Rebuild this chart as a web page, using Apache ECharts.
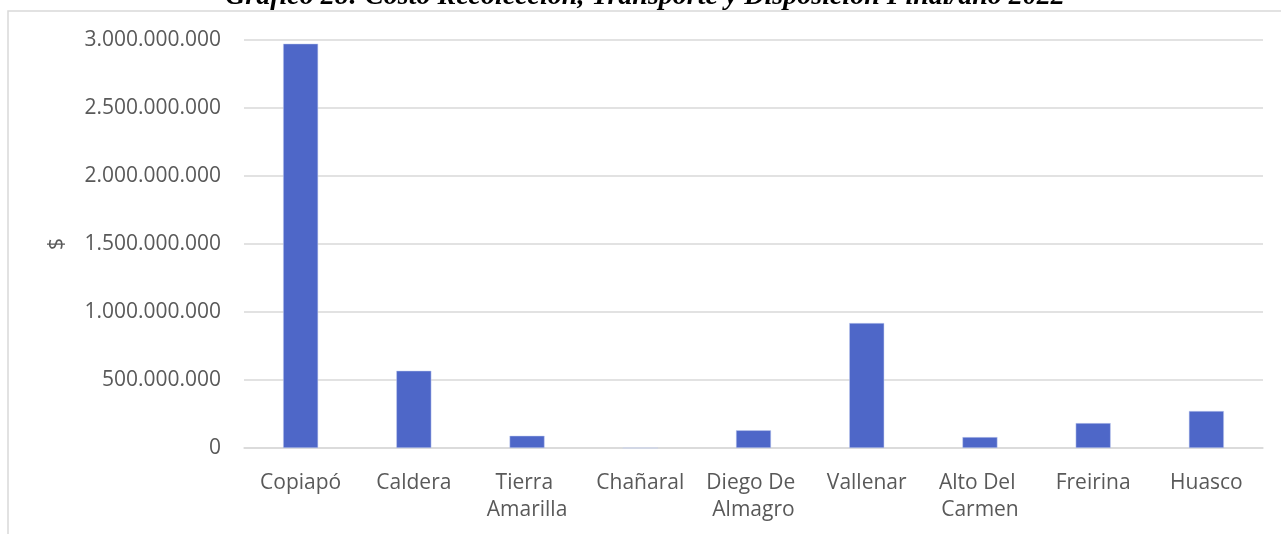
<!DOCTYPE html>
<html>
<head>
<meta charset="utf-8">
<script src="https://cdn.jsdelivr.net/npm/echarts@6/dist/echarts.min.js"></script>
<style>
  html, body { margin: 0; padding: 0; background: #ffffff; }
  #chart { width: 1281px; height: 534px; }
</style>
</head>
<body>
<div id="chart"></div>
<script>
const titleText = 'Gráfico 28: Costo Recolección, Transporte y Disposición Final/año 2022';
const categories = ['Copiapó', 'Caldera', 'Tierra Amarilla', 'Chañaral', 'Diego De Almagro', 'Vallenar', 'Alto Del Carmen', 'Freirina', 'Huasco'];
const costs = [2973000000, 568000000, 90000000, 0, 130000000, 919000000, 80000000, 183000000, 272000000];
const yAxisName = '$';
const yMin = 0, yMax = 3000000000, yStep = 500000000;

function fmt(v) {
  return String(Math.round(v)).replace(/\B(?=(\d{3})+(?!\d))/g, '.');
}

const chart = echarts.init(document.getElementById('chart'), null, { renderer: 'canvas' });
chart.setOption({
  animation: false,
  backgroundColor: '#ffffff',
  graphic: [
    {
      type: 'rect',
      silent: true,
      shape: { x: 8, y: 11, width: 1400, height: 700 },
      style: { fill: 'none', stroke: '#d9d9d9', lineWidth: 1.5 }
    },
    {
      type: 'text',
      silent: true,
      x: 645,
      y: -3,
      style: {
        text: titleText,
        fill: '#000000',
        font: 'italic bold 28px "Liberation Serif"',
        textAlign: 'center',
        textVerticalAlign: 'middle'
      }
    }
  ],
  grid: { left: 244, right: 18, top: 40, bottom: 86, containLabel: false },
  xAxis: {
    type: 'category',
    data: categories,
    axisTick: { show: false },
    axisLine: { lineStyle: { color: '#d9d9d9', width: 1.5 } },
    axisLabel: {
      interval: 0,
      color: '#595959',
      fontFamily: 'Open Sans',
      fontSize: 21,
      lineHeight: 27,
      margin: 22,
      width: 108,
      overflow: 'break'
    }
  },
  yAxis: {
    type: 'value',
    min: yMin,
    max: yMax,
    interval: yStep,
    name: yAxisName,
    nameLocation: 'middle',
    nameRotate: 90,
    nameGap: 176,
    nameTextStyle: { color: '#595959', fontFamily: 'Open Sans', fontSize: 21 },
    axisLine: { show: false },
    axisTick: { show: false },
    splitLine: { lineStyle: { color: '#d9d9d9', width: 1.5 } },
    axisLabel: {
      color: '#595959',
      fontFamily: 'Open Sans',
      fontSize: 21,
      margin: 23,
      formatter: fmt
    }
  },
  series: [{
    type: 'bar',
    data: costs,
    barWidth: 35,
    itemStyle: { color: '#4e67c8', borderColor: '#c7d0f0', borderWidth: 0.5 }
  }]
});
</script>
</body>
</html>
